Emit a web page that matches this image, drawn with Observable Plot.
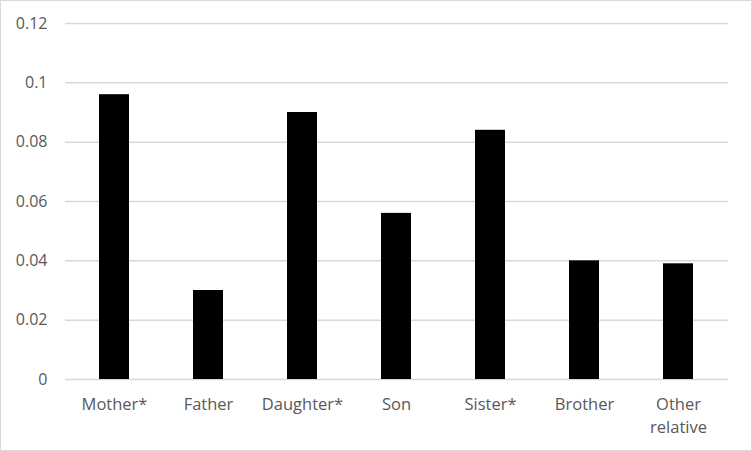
<!DOCTYPE html>
<html>
<head>
<meta charset="utf-8">
<script src="https://cdn.jsdelivr.net/npm/d3@7"></script>
<script src="https://cdn.jsdelivr.net/npm/@observablehq/plot@0.6"></script>
<style>
  html, body { margin: 0; padding: 0; background: #fff; }
  #chart svg { display: block; outline: 1px solid #d9d9d9; outline-offset: -1px; }
</style>
</head>
<body>
<div id="chart"></div>
<script>
const categories = ["Mother*", "Father", "Daughter*", "Son", "Sister*", "Brother", "Other\nrelative"];
const values = [0.096, 0.030, 0.090, 0.056, 0.084, 0.040, 0.039];
const yTicks = [0, 0.02, 0.04, 0.06, 0.08, 0.1, 0.12];

const data = categories.map((c, i) => ({category: c, value: values[i]}));

const chart = Plot.plot({
  width: 752,
  height: 451,
  marginLeft: 65,
  marginRight: 24,
  marginTop: 23,
  marginBottom: 72,
  style: {fontFamily: "'Open Sans', sans-serif", fontSize: "16px", color: "#595959", background: "#fff"},
  x: {domain: categories, paddingInner: 0.68, paddingOuter: 0.34, label: null},
  y: {domain: [0, 0.12], label: null},
  marks: [
    Plot.gridY(yTicks, {stroke: "#d9d9d9", strokeOpacity: 1, strokeWidth: 1.5}),
    Plot.barY(data, {x: "category", y: "value", fill: "#000"}),
    Plot.axisY(yTicks, {tickSize: 0, tickPadding: 18, tickFormat: d => String(+d.toFixed(2)), fontSize: 16, fill: "#595959", label: null}),
    Plot.axisX({tickSize: 0, tickPadding: 13, fontSize: 16.5, fill: "#595959", label: null, lineHeight: 1.45})
  ]
});
document.getElementById("chart").append(chart);
</script>
</body>
</html>
